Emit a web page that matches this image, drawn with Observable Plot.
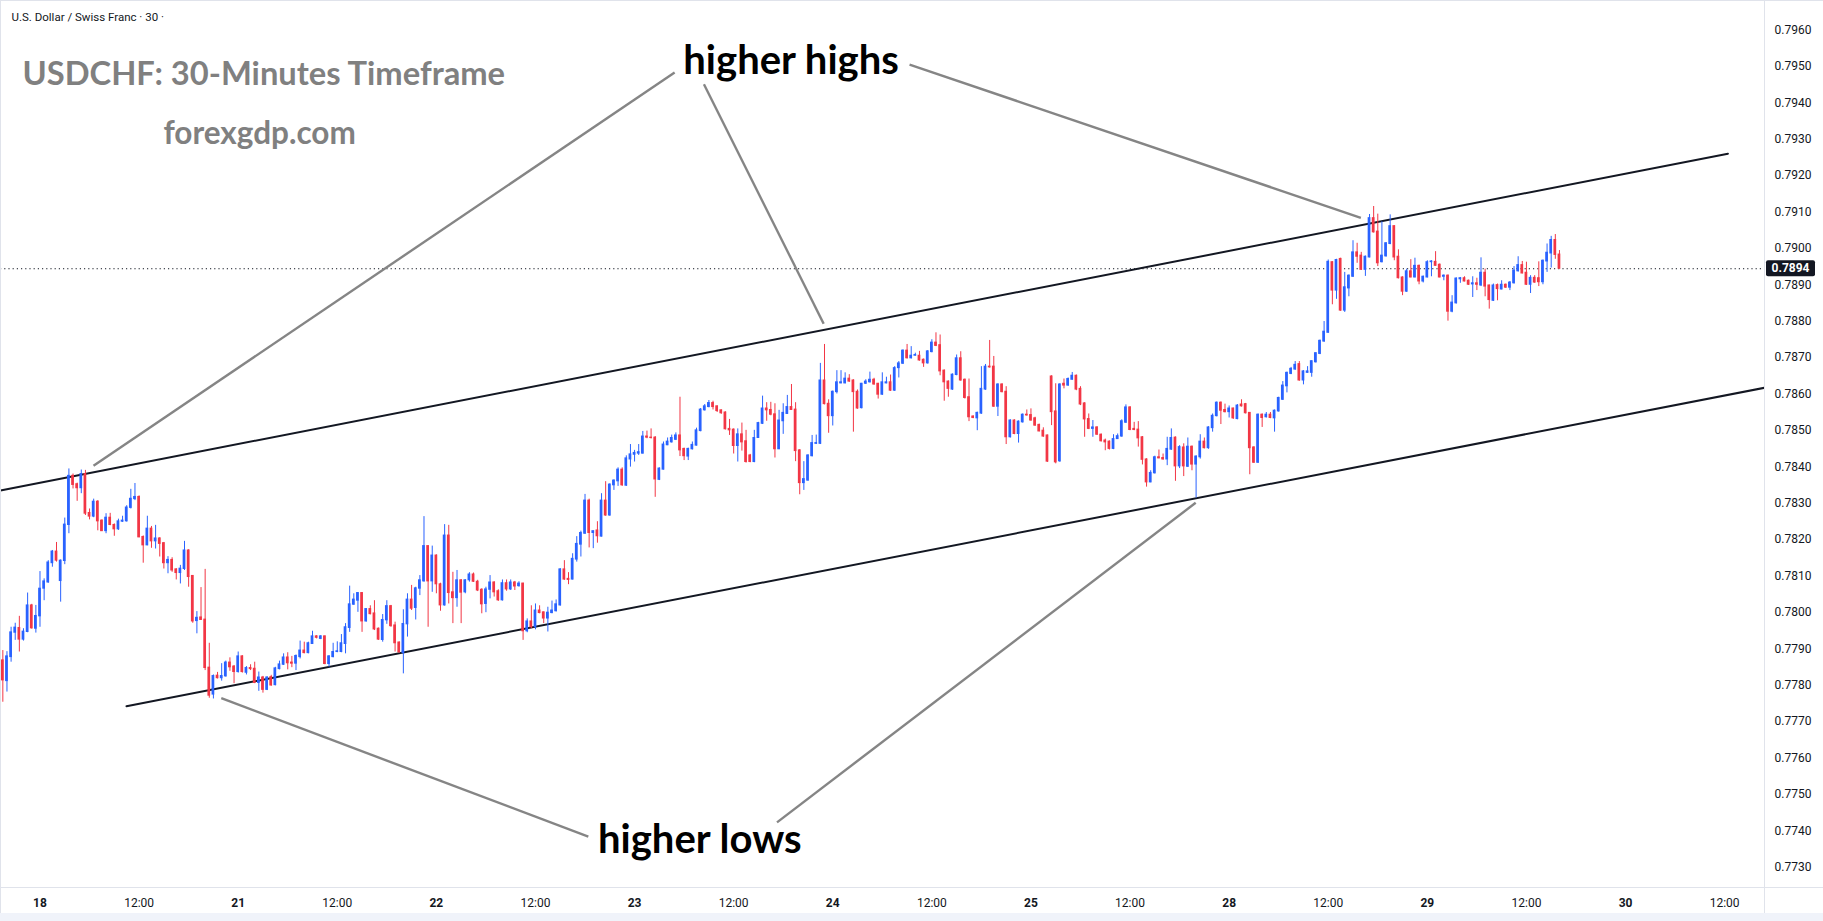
<!DOCTYPE html>
<html>
<head>
<meta charset="utf-8">
<script src="https://cdn.jsdelivr.net/npm/d3@7"></script>
<script src="https://cdn.jsdelivr.net/npm/@observablehq/plot@0.6"></script>
<style>
html,body{margin:0;padding:0;background:#ffffff;overflow:hidden}
#chart{width:1823px;height:921px}
</style>
</head>
<body>
<div id="chart"></div>
<script>
// ---- data (30-minute candles, index 0 = start of the 18th) ----
const firstIndex = -9;
const opens = [
0.77868,0.77811,0.77877,0.77944,0.77957,0.77925,0.77946,0.78019,0.77955,0.77989,
0.78065,0.78082,0.78135,0.78167,0.78086,0.78141,0.78240,0.78375,0.78352,0.78341,
0.78380,0.78273,0.78263,0.78304,0.78252,0.78223,0.78260,0.78240,0.78228,0.78249,
0.78250,0.78287,0.78311,0.78317,0.78207,0.78184,0.78230,0.78195,0.78203,0.78190,
0.78135,0.78144,0.78118,0.78108,0.78119,0.78170,0.78100,0.77976,0.77986,0.77980,
0.77848,0.77774,0.77826,0.77819,0.77824,0.77862,0.77851,0.77836,0.77879,0.77834,
0.77847,0.77845,0.77806,0.77821,0.77787,0.77822,0.77800,0.77844,0.77856,0.77876,
0.77862,0.77859,0.77877,0.77895,0.77888,0.77913,0.77934,0.77927,0.77934,0.77858,
0.77877,0.77891,0.77891,0.77913,0.77957,0.78021,0.78032,0.78053,0.77975,0.78009,
0.77997,0.77955,0.77924,0.77978,0.78017,0.77964,0.77917,0.77888,0.77967,0.78035,
0.78012,0.78065,0.78085,0.78182,0.78085,0.78156,0.78077,0.78019,0.78211,0.78055,
0.78039,0.78088,0.78055,0.78088,0.78104,0.78084,0.78062,0.78023,0.78062,0.78082,
0.78058,0.78033,0.78080,0.78063,0.78082,0.78072,0.78079,0.77948,0.77975,0.77959,
0.78005,0.78000,0.77983,0.77998,0.78003,0.78019,0.78118,0.78092,0.78090,0.78145,
0.78186,0.78216,0.78307,0.78218,0.78225,0.78208,0.78307,0.78266,0.78349,0.78360,
0.78392,0.78348,0.78420,0.78433,0.78436,0.78436,0.78483,0.78480,0.78480,0.78364,
0.78392,0.78459,0.78467,0.78474,0.78486,0.78449,0.78428,0.78448,0.78458,0.78498,
0.78555,0.78564,0.78575,0.78566,0.78555,0.78549,0.78504,0.78502,0.78457,0.78489,
0.78470,0.78431,0.78413,0.78479,0.78518,0.78560,0.78556,0.78544,0.78448,0.78525,
0.78545,0.78564,0.78557,0.78445,0.78355,0.78362,0.78429,0.78463,0.78463,0.78637,
0.78573,0.78539,0.78605,0.78629,0.78629,0.78642,0.78637,0.78606,0.78561,0.78628,
0.78632,0.78639,0.78628,0.78598,0.78629,0.78632,0.78609,0.78671,0.78683,0.78719,
0.78698,0.78705,0.78705,0.78694,0.78684,0.78715,0.78741,0.78734,0.78664,0.78634,
0.78612,0.78652,0.78698,0.78639,0.78591,0.78538,0.78533,0.78546,0.78612,0.78675,
0.78675,0.78565,0.78626,0.78606,0.78481,0.78527,0.78490,0.78522,0.78543,0.78542,
0.78533,0.78515,0.78499,0.78486,0.78648,0.78552,0.78415,0.78628,0.78623,0.78639,
0.78650,0.78614,0.78574,0.78531,0.78504,0.78508,0.78488,0.78472,0.78469,0.78449,
0.78476,0.78483,0.78521,0.78563,0.78504,0.78502,0.78481,0.78420,0.78357,0.78382,
0.78426,0.78424,0.78420,0.78447,0.78480,0.78401,0.78453,0.78400,0.78455,0.78406,
0.78426,0.78469,0.78451,0.78506,0.78539,0.78576,0.78556,0.78550,0.78560,0.78531,
0.78571,0.78572,0.78548,0.78453,0.78411,0.78543,0.78536,0.78543,0.78533,0.78552,
0.78584,0.78621,0.78655,0.78667,0.78682,0.78637,0.78658,0.78658,0.78687,0.78710,
0.78744,0.78768,0.78962,0.78884,0.78971,0.78829,0.78890,0.78922,0.78989,0.78980,
0.78941,0.78975,0.79083,0.79046,0.78962,0.78978,0.79012,0.79061,0.78977,0.78920,
0.78881,0.78937,0.78920,0.78952,0.78909,0.78920,0.78962,0.78963,0.78955,0.78922,
0.78925,0.78826,0.78849,0.78915,0.78918,0.78911,0.78901,0.78904,0.78898,0.78933,
0.78898,0.78856,0.78899,0.78887,0.78900,0.78892,0.78904,0.78937,0.78954,0.78933,
0.78900,0.78919,0.78918,0.78907,0.78964,0.78986,0.79023,0.78983];
const highs = [
0.77895,0.77892,0.77959,0.77970,0.77989,0.77955,0.78053,0.78022,0.78019,0.78112,
0.78092,0.78142,0.78170,0.78192,0.78144,0.78259,0.78394,0.78380,0.78355,0.78391,
0.78390,0.78284,0.78311,0.78307,0.78254,0.78271,0.78272,0.78243,0.78256,0.78264,
0.78293,0.78338,0.78354,0.78320,0.78210,0.78264,0.78236,0.78239,0.78205,0.78192,
0.78153,0.78150,0.78120,0.78129,0.78195,0.78172,0.78101,0.78002,0.78068,0.78118,
0.77915,0.77828,0.77835,0.77859,0.77866,0.77875,0.77854,0.77891,0.77881,0.77851,
0.77856,0.77863,0.77836,0.77824,0.77823,0.77827,0.77849,0.77866,0.77886,0.77889,
0.77879,0.77883,0.77921,0.77918,0.77918,0.77948,0.77936,0.77936,0.77935,0.77881,
0.77915,0.77919,0.77939,0.77969,0.78072,0.78051,0.78054,0.78054,0.78010,0.78018,
0.78032,0.77957,0.77994,0.78032,0.78019,0.77973,0.77919,0.78007,0.78051,0.78074,
0.78069,0.78101,0.78263,0.78182,0.78182,0.78158,0.78080,0.78241,0.78239,0.78110,
0.78115,0.78090,0.78090,0.78109,0.78108,0.78088,0.78065,0.78069,0.78101,0.78084,
0.78062,0.78089,0.78089,0.78089,0.78085,0.78084,0.78080,0.77982,0.78018,0.78023,
0.78018,0.78001,0.78014,0.78031,0.78034,0.78120,0.78142,0.78109,0.78161,0.78208,
0.78223,0.78324,0.78311,0.78223,0.78249,0.78326,0.78359,0.78353,0.78364,0.78397,
0.78397,0.78430,0.78461,0.78445,0.78461,0.78497,0.78498,0.78504,0.78483,0.78397,
0.78468,0.78479,0.78487,0.78493,0.78591,0.78451,0.78451,0.78468,0.78506,0.78560,
0.78571,0.78582,0.78580,0.78567,0.78556,0.78551,0.78530,0.78504,0.78504,0.78520,
0.78500,0.78434,0.78500,0.78522,0.78594,0.78576,0.78577,0.78573,0.78555,0.78573,
0.78596,0.78626,0.78576,0.78447,0.78414,0.78433,0.78486,0.78487,0.78684,0.78736,
0.78584,0.78608,0.78664,0.78664,0.78658,0.78653,0.78639,0.78611,0.78629,0.78639,
0.78660,0.78643,0.78629,0.78658,0.78646,0.78652,0.78675,0.78689,0.78721,0.78736,
0.78730,0.78712,0.78717,0.78696,0.78719,0.78749,0.78768,0.78762,0.78666,0.78636,
0.78655,0.78707,0.78716,0.78641,0.78641,0.78540,0.78550,0.78675,0.78681,0.78747,
0.78703,0.78628,0.78628,0.78620,0.78529,0.78529,0.78526,0.78545,0.78556,0.78559,
0.78536,0.78517,0.78507,0.78487,0.78650,0.78628,0.78628,0.78641,0.78644,0.78659,
0.78652,0.78620,0.78576,0.78545,0.78527,0.78510,0.78490,0.78476,0.78471,0.78488,
0.78490,0.78529,0.78570,0.78565,0.78522,0.78524,0.78483,0.78422,0.78389,0.78429,
0.78446,0.78435,0.78481,0.78504,0.78482,0.78458,0.78463,0.78479,0.78457,0.78430,
0.78488,0.78479,0.78510,0.78545,0.78578,0.78578,0.78572,0.78567,0.78561,0.78571,
0.78584,0.78574,0.78549,0.78455,0.78545,0.78545,0.78549,0.78549,0.78556,0.78591,
0.78634,0.78660,0.78673,0.78689,0.78689,0.78664,0.78675,0.78691,0.78713,0.78748,
0.78799,0.78968,0.78963,0.78970,0.78973,0.78934,0.78927,0.79021,0.79014,0.78989,
0.78979,0.79093,0.79115,0.79094,0.79073,0.79016,0.79092,0.79062,0.78996,0.78922,
0.78943,0.78969,0.78973,0.78954,0.78924,0.78966,0.78966,0.78991,0.78957,0.78927,
0.78927,0.78870,0.78919,0.78920,0.78922,0.78913,0.78922,0.78918,0.78974,0.78943,
0.78899,0.78902,0.78902,0.78911,0.78902,0.78909,0.78950,0.78977,0.78964,0.78962,
0.78925,0.78925,0.78963,0.78968,0.79012,0.79033,0.79038,0.78994];
const lows = [
0.77753,0.77781,0.77863,0.77923,0.77891,0.77921,0.77944,0.77954,0.77943,0.77959,
0.78032,0.78080,0.78124,0.78138,0.78028,0.78131,0.78216,0.78339,0.78305,0.78326,
0.78266,0.78254,0.78260,0.78224,0.78222,0.78216,0.78238,0.78209,0.78225,0.78247,
0.78248,0.78284,0.78307,0.78205,0.78135,0.78183,0.78176,0.78174,0.78152,0.78119,
0.78106,0.78110,0.78089,0.78078,0.78115,0.78069,0.77970,0.77941,0.77978,0.77840,
0.77764,0.77762,0.77817,0.77811,0.77822,0.77838,0.77804,0.77833,0.77833,0.77828,
0.77840,0.77804,0.77783,0.77778,0.77785,0.77797,0.77798,0.77842,0.77854,0.77842,
0.77848,0.77840,0.77872,0.77886,0.77886,0.77912,0.77927,0.77925,0.77856,0.77849,
0.77875,0.77889,0.77889,0.77886,0.77945,0.78019,0.78000,0.77945,0.77973,0.77993,
0.77950,0.77923,0.77918,0.77967,0.77959,0.77891,0.77888,0.77831,0.77932,0.78005,
0.77979,0.78046,0.78083,0.77959,0.78055,0.78051,0.78003,0.78017,0.78023,0.77969,
0.78014,0.77969,0.78051,0.78083,0.78082,0.78057,0.77996,0.77999,0.78037,0.78042,
0.78030,0.78031,0.78058,0.78060,0.78060,0.78069,0.77923,0.77944,0.77955,0.77952,
0.77996,0.77969,0.77946,0.77996,0.78001,0.78017,0.78088,0.78076,0.78089,0.78138,
0.78152,0.78214,0.78177,0.78175,0.78190,0.78207,0.78264,0.78264,0.78335,0.78346,
0.78346,0.78346,0.78399,0.78413,0.78431,0.78435,0.78477,0.78476,0.78316,0.78362,
0.78391,0.78458,0.78465,0.78472,0.78428,0.78417,0.78417,0.78446,0.78457,0.78496,
0.78553,0.78562,0.78556,0.78549,0.78544,0.78501,0.78486,0.78435,0.78413,0.78443,
0.78410,0.78411,0.78411,0.78478,0.78516,0.78525,0.78540,0.78424,0.78447,0.78489,
0.78544,0.78555,0.78414,0.78323,0.78335,0.78360,0.78427,0.78461,0.78461,0.78570,
0.78492,0.78512,0.78600,0.78628,0.78628,0.78632,0.78495,0.78558,0.78559,0.78626,
0.78630,0.78624,0.78586,0.78596,0.78628,0.78607,0.78607,0.78644,0.78681,0.78696,
0.78696,0.78704,0.78690,0.78673,0.78682,0.78713,0.78730,0.78650,0.78580,0.78591,
0.78610,0.78650,0.78635,0.78586,0.78524,0.78532,0.78499,0.78544,0.78610,0.78671,
0.78563,0.78538,0.78603,0.78461,0.78479,0.78488,0.78465,0.78520,0.78539,0.78525,
0.78511,0.78496,0.78481,0.78412,0.78513,0.78408,0.78412,0.78614,0.78621,0.78638,
0.78609,0.78568,0.78481,0.78502,0.78481,0.78486,0.78468,0.78444,0.78446,0.78447,
0.78475,0.78481,0.78519,0.78499,0.78499,0.78454,0.78405,0.78344,0.78356,0.78380,
0.78422,0.78418,0.78403,0.78445,0.78360,0.78395,0.78373,0.78398,0.78389,0.78314,
0.78421,0.78449,0.78448,0.78495,0.78537,0.78516,0.78548,0.78534,0.78530,0.78529,
0.78564,0.78545,0.78378,0.78409,0.78409,0.78508,0.78534,0.78532,0.78495,0.78550,
0.78582,0.78603,0.78653,0.78665,0.78635,0.78625,0.78657,0.78646,0.78685,0.78708,
0.78742,0.78767,0.78845,0.78860,0.78827,0.78824,0.78867,0.78920,0.78959,0.78940,
0.78923,0.78974,0.79042,0.78950,0.78960,0.78976,0.79010,0.78966,0.78916,0.78870,
0.78879,0.78919,0.78919,0.78900,0.78905,0.78919,0.78922,0.78951,0.78919,0.78911,
0.78800,0.78823,0.78847,0.78904,0.78908,0.78898,0.78865,0.78884,0.78895,0.78867,
0.78833,0.78854,0.78856,0.78886,0.78890,0.78884,0.78902,0.78935,0.78930,0.78898,
0.78876,0.78904,0.78895,0.78900,0.78934,0.78946,0.78970,0.78944];
const closes = [
0.77813,0.77879,0.77945,0.77958,0.77925,0.77947,0.78019,0.77956,0.77990,0.78065,
0.78085,0.78137,0.78167,0.78142,0.78142,0.78241,0.78375,0.78350,0.78341,0.78380,
0.78271,0.78263,0.78304,0.78250,0.78223,0.78260,0.78240,0.78228,0.78250,0.78252,
0.78288,0.78312,0.78317,0.78206,0.78184,0.78230,0.78195,0.78203,0.78188,0.78135,
0.78144,0.78115,0.78108,0.78120,0.78170,0.78097,0.77975,0.77985,0.77979,0.77847,
0.77771,0.77825,0.77819,0.77825,0.77862,0.77849,0.77836,0.77879,0.77836,0.77847,
0.77844,0.77806,0.77821,0.77787,0.77821,0.77799,0.77846,0.77857,0.77876,0.77860,
0.77859,0.77880,0.77895,0.77888,0.77915,0.77934,0.77930,0.77934,0.77858,0.77879,
0.77891,0.77893,0.77915,0.77959,0.78022,0.78035,0.78053,0.77975,0.78009,0.77995,
0.77953,0.77925,0.77979,0.78017,0.77962,0.77915,0.77890,0.77968,0.78035,0.78010,
0.78066,0.78088,0.78182,0.78085,0.78156,0.78077,0.78019,0.78211,0.78053,0.78039,
0.78088,0.78054,0.78088,0.78104,0.78084,0.78060,0.78022,0.78063,0.78082,0.78055,
0.78033,0.78080,0.78063,0.78082,0.78071,0.78079,0.77948,0.77975,0.77959,0.78005,
0.77998,0.77983,0.77999,0.78005,0.78022,0.78118,0.78090,0.78089,0.78147,0.78188,
0.78218,0.78307,0.78218,0.78223,0.78209,0.78307,0.78266,0.78351,0.78362,0.78392,
0.78349,0.78423,0.78434,0.78438,0.78440,0.78483,0.78480,0.78479,0.78365,0.78395,
0.78461,0.78469,0.78479,0.78486,0.78445,0.78429,0.78449,0.78460,0.78500,0.78557,
0.78566,0.78575,0.78564,0.78553,0.78547,0.78503,0.78500,0.78457,0.78489,0.78467,
0.78413,0.78413,0.78479,0.78520,0.78560,0.78555,0.78543,0.78448,0.78527,0.78548,
0.78564,0.78556,0.78443,0.78355,0.78366,0.78431,0.78465,0.78465,0.78637,0.78572,
0.78539,0.78606,0.78632,0.78632,0.78642,0.78634,0.78605,0.78560,0.78628,0.78634,
0.78639,0.78626,0.78598,0.78632,0.78632,0.78609,0.78671,0.78684,0.78719,0.78698,
0.78705,0.78707,0.78692,0.78684,0.78717,0.78741,0.78732,0.78662,0.78632,0.78614,
0.78653,0.78698,0.78637,0.78589,0.78536,0.78534,0.78548,0.78614,0.78675,0.78673,
0.78565,0.78626,0.78605,0.78481,0.78527,0.78490,0.78524,0.78543,0.78541,0.78527,
0.78513,0.78497,0.78483,0.78414,0.78550,0.78412,0.78626,0.78623,0.78641,0.78650,
0.78612,0.78571,0.78530,0.78504,0.78508,0.78488,0.78470,0.78467,0.78449,0.78476,
0.78484,0.78525,0.78563,0.78501,0.78501,0.78478,0.78419,0.78357,0.78383,0.78426,
0.78423,0.78420,0.78449,0.78479,0.78401,0.78454,0.78401,0.78455,0.78406,0.78428,
0.78469,0.78451,0.78508,0.78540,0.78576,0.78554,0.78550,0.78560,0.78533,0.78568,
0.78566,0.78547,0.78451,0.78411,0.78543,0.78534,0.78543,0.78534,0.78554,0.78589,
0.78623,0.78658,0.78669,0.78680,0.78637,0.78662,0.78662,0.78690,0.78712,0.78746,
0.78771,0.78963,0.78884,0.78968,0.78829,0.78893,0.78925,0.78989,0.78977,0.78941,
0.78977,0.79083,0.79044,0.78959,0.78980,0.79014,0.79061,0.78975,0.78918,0.78881,
0.78937,0.78920,0.78952,0.78909,0.78922,0.78962,0.78964,0.78952,0.78920,0.78925,
0.78826,0.78851,0.78917,0.78918,0.78909,0.78900,0.78904,0.78900,0.78933,0.78895,
0.78858,0.78898,0.78888,0.78900,0.78892,0.78906,0.78939,0.78954,0.78931,0.78900,
0.78919,0.78906,0.78907,0.78966,0.78988,0.79023,0.78982,0.78944];

// axis ticks
const yTicks = [0.7730,0.7740,0.7750,0.7760,0.7770,0.7780,0.7790,0.7800,0.7810,0.7820,0.7830,0.7840,
  0.7850,0.7860,0.7870,0.7880,0.7890,0.7900,0.7910,0.7920,0.7930,0.7940,0.7950,0.7960];
const dayLabels = ["18","21","22","23","24","25","28","29","30"];
const halfDayLabel = "12:00";
const candlesPerDay = 48;

// channel lines (candle index, price)
const upperLineX = [-9.57, 408.8];
const upperLineY = [0.78335, 0.79260];
const lowerLineX = [20.95, 417.66];
const lowerLineY = [0.77742, 0.78617];

// annotation pointers (from label to touch point)
const pointerX1 = [153.7, 160.8, 210.6, 132.8, 178.5];
const pointerY1 = [0.79483, 0.79451, 0.79505, 0.77384, 0.77423];
const pointerX2 = [12.96, 189.8, 319.9, 43.9, 279.9];
const pointerY2 = [0.78403, 0.78793, 0.79084, 0.77764, 0.78301];

const noteText = ["higher highs", "higher lows"];
const noteX = [181.9, 159.8];
const noteY = [0.79480, 0.77340];

// ---- build ----
const candles = opens.map((o, k) => ({i: firstIndex + k, o, h: highs[k], l: lows[k], c: closes[k]}));
const BLUE = "#2962ff", RED = "#f23645";
const col = d => d.c >= d.o ? BLUE : RED;
const lastPrice = closes[closes.length - 1];

const dayTicks = dayLabels.map((_, k) => k * candlesPerDay);
const halfTicks = dayLabels.map((_, k) => k * candlesPerDay + candlesPerDay / 2);
const dayMap = new Map(dayTicks.map((t, k) => [t, dayLabels[k]]));

const upper = upperLineX.map((x, k) => ({x, y: upperLineY[k]}));
const lower = lowerLineX.map((x, k) => ({x, y: lowerLineY[k]}));
const pointers = pointerX1.map((x, k) => ({x1: x, y1: pointerY1[k], x2: pointerX2[k], y2: pointerY2[k]}));
const notes = noteText.map((t, k) => ({t, x: noteX[k], y: noteY[k]}));

const W = 1823, H = 921, MR = 59, MB = 34;

const plot = Plot.plot({
  width: W, height: H,
  marginLeft: 0, marginRight: MR, marginTop: 0, marginBottom: MB,
  style: {background: "#ffffff", fontFamily: "Roboto, 'Liberation Sans', sans-serif", fontSize: "12px", color: "#131722", overflow: "visible"},
  x: {type: "linear", domain: [-9.566, 417.66]},
  y: {domain: [0.77244, 0.79681]},
  color: {type: "identity"},
  marks: [
    Plot.ruleY([lastPrice], {stroke: "#131722", strokeWidth: 1, strokeDasharray: "1.2,3"}),
    Plot.line(upper, {x: "x", y: "y", stroke: "#131722", strokeWidth: 2, clip: true}),
    Plot.line(lower, {x: "x", y: "y", stroke: "#131722", strokeWidth: 2, clip: true}),
    Plot.ruleX(candles, {x: "i", y1: "l", y2: "h", stroke: col, strokeWidth: 1}),
    Plot.rect(candles, {x1: d => d.i - 0.33, x2: d => d.i + 0.33, y1: "o", y2: "c", fill: col, insetTop: -0.5, insetBottom: -0.5}),
    Plot.link(pointers, {x1: "x1", y1: "y1", x2: "x2", y2: "y2", stroke: "#858585", strokeWidth: 2.4}),
    Plot.text(notes, {x: "x", y: "y", text: "t", textAnchor: "middle", lineAnchor: "bottom",
      fontFamily: "Lato, 'Open Sans', sans-serif", fontWeight: "bold", fontSize: 40, fill: "#000000"}),
    Plot.text(["U.S. Dollar / Swiss Franc · 30 ·"], {frameAnchor: "top-left", dx: 11, dy: 17, lineAnchor: "middle",
      textAnchor: "start", fontSize: 11.5, fill: "#131722", fontFamily: "Roboto, sans-serif"}),
    Plot.text(["USDCHF: 30-Minutes Timeframe"], {frameAnchor: "top-left", dx: 22, dy: 84, lineAnchor: "bottom",
      textAnchor: "start", fontFamily: "Lato, sans-serif", fontWeight: "bold", fontSize: 32.7, fill: "#808080"}),
    Plot.text(["forexgdp.com"], {frameAnchor: "top-left", dx: 163, dy: 143, lineAnchor: "bottom",
      textAnchor: "start", fontFamily: "Lato, sans-serif", fontWeight: "bold", fontSize: 31.5, fill: "#808080"}),
    Plot.axisY({anchor: "right", ticks: yTicks, tickFormat: d3.format(".4f"), tickSize: 0, tickPadding: 10,
      fontSize: 12, fill: "#131722"}),
    Plot.axisX({anchor: "bottom", ticks: dayTicks, tickFormat: t => dayMap.get(t), tickSize: 0, tickPadding: 11,
      fontSize: 12, fontWeight: "bold", fill: "#131722"}),
    Plot.axisX({anchor: "bottom", ticks: halfTicks, tickFormat: () => halfDayLabel, tickSize: 0, tickPadding: 11,
      fontSize: 12, fill: "#131722"})
  ]
});

document.getElementById("chart").appendChild(plot);

// frame separators and last-price label
const svg = d3.select(plot);
const plotRight = W - MR, plotBottom = H - MB;
svg.append("line").attr("x1", 0).attr("x2", W).attr("y1", plotBottom + 0.5).attr("y2", plotBottom + 0.5)
  .attr("stroke", "#e0e3eb").attr("stroke-width", 1);
svg.append("line").attr("x1", plotRight + 0.5).attr("x2", plotRight + 0.5).attr("y1", 0).attr("y2", H)
  .attr("stroke", "#e0e3eb").attr("stroke-width", 1);
svg.append("line").attr("x1", 0).attr("x2", W).attr("y1", 0.5).attr("y2", 0.5)
  .attr("stroke", "#e0e3eb").attr("stroke-width", 1);
svg.append("line").attr("x1", 0.5).attr("x2", 0.5).attr("y1", 0).attr("y2", H)
  .attr("stroke", "#e0e3eb").attr("stroke-width", 1);
svg.append("rect").attr("x", 0).attr("y", H - 8).attr("width", W).attr("height", 8).attr("fill", "#f0f3fa");
const yLast = plot.scale("y").apply(lastPrice);
svg.append("rect").attr("x", plotRight + 2).attr("y", yLast - 8).attr("width", 49).attr("height", 16)
  .attr("rx", 2).attr("fill", "#131722");
svg.append("text").attr("x", plotRight + 2 + 24.5).attr("y", yLast).attr("dy", "0.35em")
  .attr("text-anchor", "middle").attr("fill", "#ffffff").attr("font-size", 12)
  .attr("font-family", "Roboto, sans-serif").attr("font-weight", "bold")
  .text(d3.format(".4f")(lastPrice));
</script>
</body>
</html>
